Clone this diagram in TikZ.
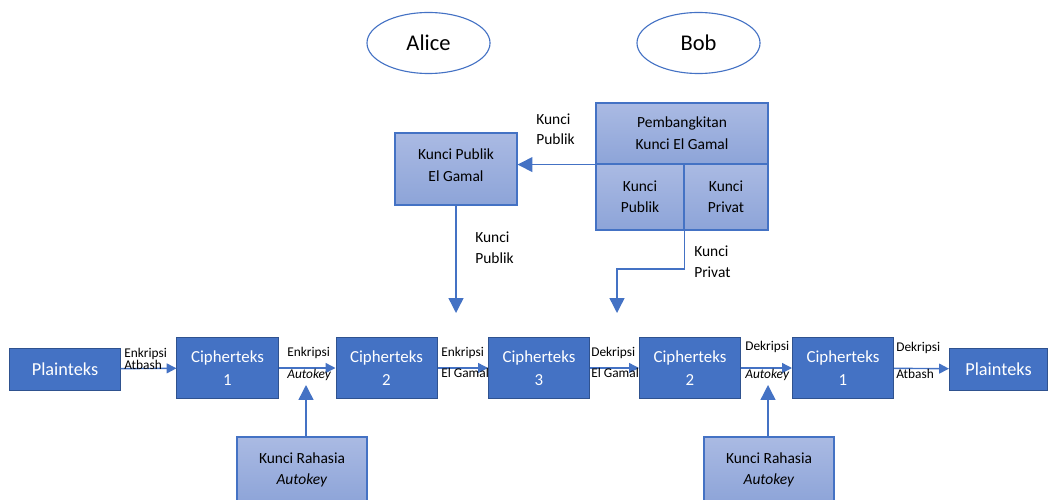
\documentclass[tikz,border=0pt]{standalone}
\usepackage{fontspec}
\setmainfont{Carlito}
\usepackage{xcolor}
\usepackage{tikz}
\usetikzlibrary{arrows.meta, shapes.geometric, positioning}

\definecolor{birutua}{HTML}{4472C4}
\definecolor{birugaris}{HTML}{2F528F}
\definecolor{birumudaA}{HTML}{AABAE3}
\definecolor{birumudaB}{HTML}{8DA4D8}

\tikzset{
    blok/.style={draw=birugaris, fill=birutua, text=white, line width=0.7pt,
        align=center, inner sep=0pt, minimum width=25.25mm, minimum height=15.25mm,
        font=\fontsize{12}{16.3}\selectfont},
    teks/.style={blok, minimum width=27.5mm, minimum height=10.5mm,
        font=\fontsize{13}{16}\selectfont},
    kunci/.style={draw=birutua, top color=birumudaA, bottom color=birumudaB,
        line width=0.8pt, align=center, inner sep=0pt,
        font=\fontsize{11}{15.5}\selectfont},
    orang/.style={ellipse, draw=birutua, line width=0.8pt, inner sep=0pt,
        minimum width=30.75mm, minimum height=15.25mm,
        font=\fontsize{16}{18}\selectfont},
    ket/.style={anchor=west, align=left, inner sep=0pt,
        font=\fontsize{9.5}{#1}\selectfont},
    ketatas/.style={anchor=west, align=left, inner sep=0pt,
        font=\fontsize{11}{14.5}\selectfont},
    panah/.style={draw=birutua, line width=1pt, -{Triangle[width=7pt,length=7pt]}},
    panahbesar/.style={draw=birutua, line width=1pt, -{Triangle[width=10.5pt,length=10.5pt]}}
}

\begin{document}
\begin{tikzpicture}[x=0.025cm, y=-0.025cm]
    \useasboundingbox (0,0) rectangle (1049,499);
    \clip (0,0) rectangle (1049,499);

    % Alice dan Bob
    \node[orang] (alice) at (428.5,43) {Alice};
    \node[orang] (bob) at (698.5,43) {Bob};

    % pembangkitan kunci
    \node[kunci, minimum width=43mm, minimum height=15.25mm] (gen) at (682,133.5) {Pembangkitan\\Kunci El Gamal};
    \node[kunci, minimum width=22mm, minimum height=16.5mm, font=\fontsize{11}{14.9}\selectfont] (selpub) at (640,197) {Kunci\\Publik};
    \node[kunci, minimum width=21mm, minimum height=16.5mm, font=\fontsize{11}{14.9}\selectfont] (selpriv) at (726,197) {Kunci\\Privat};
    \node[kunci, minimum width=30.5mm, minimum height=18mm, text depth=6pt] (kpub) at (456,169) {Kunci Publik\\El Gamal};

    % kunci rahasia autokey
    \node[kunci, minimum width=32.5mm, minimum height=16.5mm, font=\fontsize{11}{14.9}\selectfont] (rah1) at (302,470) {Kunci Rahasia\\\textit{Autokey}};
    \node[kunci, minimum width=32.5mm, minimum height=16.5mm, font=\fontsize{11}{14.9}\selectfont] (rah2) at (769,470) {Kunci Rahasia\\\textit{Autokey}};

    % baris proses
    \node[teks] (pt1) at (65,369) {Plainteks};
    \node[blok] (c1) at (227.5,368) {Cipherteks\\1};
    \node[blok] (c2) at (386.5,368) {Cipherteks\\2};
    \node[blok] (c3) at (539,368) {Cipherteks\\3};
    \node[blok] (c2b) at (690,368) {Cipherteks\\2};
    \node[blok] (c1b) at (843,368) {Cipherteks\\1};
    \node[teks, minimum width=24.5mm] (pt2) at (998.5,369) {Plainteks};

    \draw[panah] (pt1) -- (c1);
    \draw[panah] (c1) -- (c2);
    \draw[panah] (c2) -- (c3);
    \draw[panah] (c3) -- (c2b);
    \draw[panah] (c2b) -- (c1b);
    \draw[panah] (c1b) -- (pt2);

    \node[ket=8.9] (l1) at (124,359) {Enkripsi\\Atbash};
    \node[ket=15.6] (l2) at (287,364) {Enkripsi\\\textit{Autokey}};
    \node[ket=14.9] (l3) at (441,362.5) {Enkripsi\\El Gamal};
    \node[ket=14.9] (l4) at (591,362.5) {Dekripsi\\El Gamal};
    \node[ket=19.9] (l5) at (745,361) {Dekripsi\\\textit{Autokey}};
    \node[ket=19.2] (l6) at (896,360.5) {Dekripsi\\Atbash};

    % aliran kunci
    \coordinate (tpub) at (456,313);
    \coordinate (belok) at (617,269);
    \coordinate (tpriv) at (617,313);
    \coordinate (t1) at (306,385);
    \coordinate (t2) at (768,385);

    \draw[panahbesar] (gen.south west) -- (gen.south west -| kpub.east);
    \draw[panahbesar] (kpub.south) -- (tpub);
    \draw[panahbesar] (selpub.south east) |- (belok) -- (tpriv);
    \draw[panahbesar] (rah1.north -| t1) -- (t1);
    \draw[panahbesar] (rah2.north -| t2) -- (t2);

    \node[ketatas] (k1) at (536,129) {Kunci\\Publik};
    \node[ketatas, font=\fontsize{11}{14.9}\selectfont] (k2) at (475,247.5) {Kunci\\Publik};
    \node[ketatas, font=\fontsize{11}{14.9}\selectfont] (k3) at (694,261.5) {Kunci\\Privat};
\end{tikzpicture}
\end{document}
